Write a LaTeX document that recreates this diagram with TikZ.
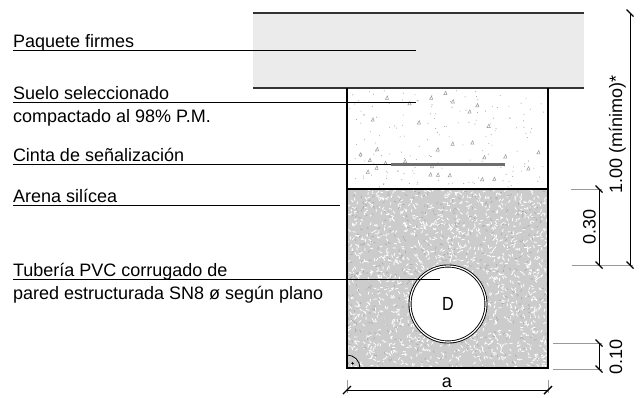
\documentclass[tikz,border=0pt]{standalone}
\usepackage{fontspec}
\setmainfont{Liberation Sans}
\newfontfamily\narrowfont{Liberation Sans}[FakeStretch=0.85]
\definecolor{pave}{HTML}{EBEBEB}
\definecolor{sand}{HTML}{CCCCCC}
\definecolor{sanddark}{HTML}{AAAAAA}
\definecolor{cinta}{HTML}{6E6E6E}
\begin{document}
\begin{tikzpicture}[x=1pt,y=-1pt,
  every node/.style={inner sep=0pt, outer sep=0pt},
  lbl/.style={anchor=base west, font=\fontsize{18}{21}\selectfont},
  leader/.style={line width=0.8pt, black},
  wall/.style={line width=1.3pt, black},
  pavel/.style={line width=1.5pt, black!80},
  ext/.style={line width=0.8pt, black!40},
  dimline/.style={line width=0.9pt, black},
  tick/.style={line width=1.4pt, black},
  dimtxt/.style={rotate=90, anchor=base, font=\fontsize{18}{21}\selectfont}]
\useasboundingbox (0,0) rectangle (643,397);
% pavement
\fill[pave] (253,13) rectangle (584,88);
\draw[pavel] (253,13) -- (584,13);
\draw[pavel] (253,88) -- (584,88);
% suelo texture
\begin{scope}
\clip (348,89) rectangle (547,188);
\pgfmathsetseed{7}
\foreach \i in {1,...,170}{
  \pgfmathsetmacro\rx{349+rnd*197}
  \pgfmathsetmacro\ry{90+rnd*97}
  \fill[black!35] (\rx,\ry) circle[radius=0.55];
}
\foreach \i in {1,...,30}{
  \pgfmathsetmacro\rx{350+rnd*192}
  \pgfmathsetmacro\ry{93+rnd*92}
  \draw[black!40, line width=0.5pt] (\rx,\ry) -- ++(3.2,0) -- ++(-1.2,-3.4) -- cycle;
}
\end{scope}
% sand
\fill[sand] (347,189) rectangle (548,368);
\begin{scope}
\clip (347,189) rectangle (548,368);
\pgfmathsetseed{11}
\foreach \i in {1,...,1400}{
  \pgfmathsetmacro\rx{347+rnd*201}
  \pgfmathsetmacro\ry{189+rnd*179}
  \pgfmathsetmacro\ra{rnd*180}
  \draw[white, line width=0.8pt] (\rx,\ry) -- ++(\ra:3);
}
\foreach \i in {1,...,500}{
  \pgfmathsetmacro\rx{347+rnd*201}
  \pgfmathsetmacro\ry{189+rnd*179}
  \pgfmathsetmacro\ra{rnd*180}
  \draw[sanddark, line width=0.6pt] (\rx,\ry) -- ++(\ra:2.5);
}
\end{scope}
% cinta
\coordinate (cA) at (391,164);
\coordinate (cB) at (505,164);
\draw[line width=3pt, cinta] (cA) -- (cB);
% trench walls
\draw[wall] (347,88) -- (347,368) -- (548,368) -- (548,88);
\draw[wall] (347,189) -- (548,189);
% pipe
\node[circle, minimum size=76pt, fill=white, draw, line width=0.9pt,
      double=white, double distance=1.2pt,
      font=\narrowfont\fontsize{19}{22}\selectfont] (pipe) at (448,304) {D};
% right angle mark
\draw[line width=0.8pt] (360,368) .. controls (360,360.8) and (354.2,355) .. (347,355);
\fill (352.6,363.4) circle[radius=1.3];
% labels and leaders
\node[lbl] (l1) at (13,47) {Paquete firmes};
\coordinate (l1a) at (13,50); \coordinate (l1b) at (416,50);
\draw[leader] (l1a) -- (l1b);
\node[lbl] (l2) at (13,99.5) {Suelo seleccionado};
\node[lbl] (l2b) at (13,122) {compactado al 98\% P.M.};
\coordinate (l2a) at (13,102); \coordinate (l2c) at (416,102);
\draw[leader] (l2a) -- (l2c);
\node[lbl] (l3) at (13,161) {Cinta de señalización};
\coordinate (l3a) at (13,164);
\draw[leader] (l3a) -- (cA);
\node[lbl] (l4) at (13,202) {Arena silícea};
\coordinate (l4a) at (13,205); \coordinate (l4b) at (340,205);
\draw[leader] (l4a) -- (l4b);
\node[lbl] (l5) at (13,276) {Tubería PVC corrugado de};
\node[lbl] (l5b) at (13,299) {pared estructurada SN8 ø según plano};
\coordinate (l5a) at (13,279); \coordinate (l5c) at (440,279);
\draw[leader] (l5a) -- (l5c);
% dimensions
\coordinate (aL) at (347,390); \coordinate (aR) at (548,390);
\draw[ext] (347,380) -- (347,393);
\draw[ext] (548,380) -- (548,393);
\draw[dimline] (aL) -- (aR);
\draw[tick] (aL) ++(-4,4) -- ++(8,-8);
\draw[tick] (aR) ++(-4,4) -- ++(8,-8);
\node[anchor=base, font=\fontsize{18}{21}\selectfont] (ta) at (447,387) {a};
% 0.10
\coordinate (d10a) at (599,343); \coordinate (d10b) at (599,369);
\draw[ext] (553,343) -- (602,343);
\draw[ext] (553,369) -- (602,369);
\draw[dimline] (d10a) -- (d10b);
\draw[tick] (d10a) ++(-3.5,-3.5) -- ++(7,7);
\draw[tick] (d10b) ++(-3.5,-3.5) -- ++(7,7);
\node[dimtxt] (t10) at (622,357) {0.10};
% 0.30
\coordinate (d30a) at (599,189); \coordinate (d30b) at (599,265);
\draw[ext] (571,189) -- (602,189);
\draw[ext] (572,265) -- (633,265);
\draw[dimline] (d30a) -- (d30b);
\draw[tick] (d30a) ++(-3.5,-3.5) -- ++(7,7);
\draw[tick] (d30b) ++(-3.5,-3.5) -- ++(7,7);
\node[dimtxt] (t30) at (595.5,227) {0.30};
% 1.00
\coordinate (d100a) at (630,13); \coordinate (d100b) at (630,265);
\draw[dimline] (d100a) -- (d100b);
\draw[tick] (d100a) ++(-3.5,-3.5) -- ++(7,7);
\draw[tick] (d100b) ++(-3.5,-3.5) -- ++(7,7);
\node[dimtxt] (t100) at (622,134) {1.00 (mínimo)*};
\end{tikzpicture}
\end{document}
